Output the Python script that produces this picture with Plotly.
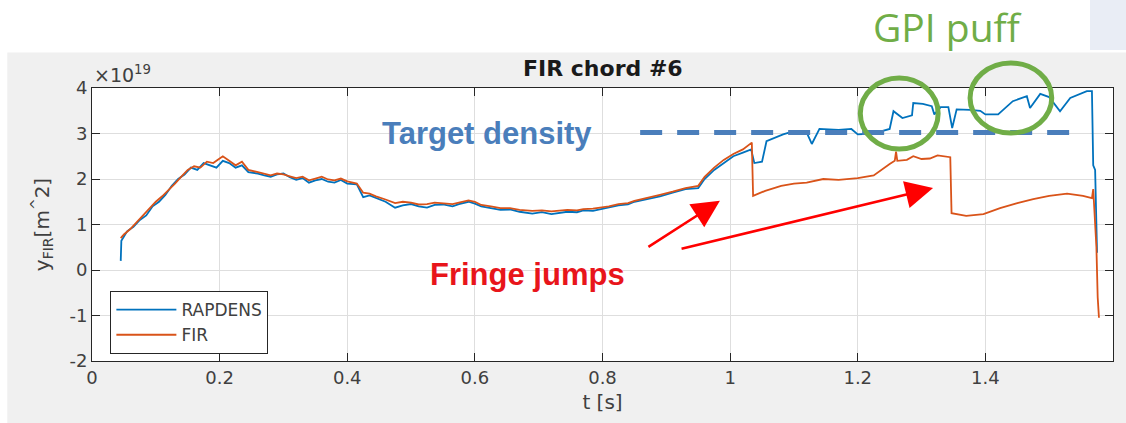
import plotly.graph_objects as go

# ---------------- data (values in units of 1e19 m^-2) ----------------
t_rap = [0.045, 0.046, 0.055, 0.065, 0.075, 0.085, 0.095, 0.105, 0.115, 0.125, 0.135, 0.145,
         0.155, 0.165, 0.175, 0.185, 0.195, 0.205, 0.215, 0.225, 0.235, 0.245, 0.26, 0.27,
         0.28, 0.29, 0.30, 0.31, 0.32, 0.33, 0.34, 0.35, 0.36, 0.37, 0.38, 0.39, 0.40, 0.415,
         0.425, 0.435, 0.445, 0.46, 0.475, 0.487, 0.50, 0.512, 0.525, 0.537,
         0.55, 0.565, 0.575, 0.59, 0.60, 0.61, 0.625, 0.64, 0.655, 0.67, 0.69, 0.705, 0.72,
         0.735, 0.745, 0.76, 0.77, 0.785, 0.80, 0.81, 0.825, 0.84, 0.85,
         0.87, 0.89, 0.91, 0.93, 0.95, 0.96, 0.975, 0.99, 1.005, 1.02, 1.033, 1.038, 1.05,
         1.057, 1.07, 1.083, 1.10, 1.12, 1.128, 1.14, 1.17, 1.19, 1.2, 1.224, 1.25, 1.256,
         1.27, 1.285, 1.287, 1.302, 1.316, 1.32, 1.33, 1.342, 1.348, 1.355, 1.376, 1.392,
         1.40, 1.42, 1.443, 1.465, 1.47, 1.486, 1.50, 1.517, 1.533, 1.548, 1.559, 1.567,
         1.569, 1.572, 1.575]
rapdens = [0.20, 0.64, 0.85, 0.95, 1.10, 1.20, 1.40, 1.50, 1.65, 1.85, 2.00, 2.10,
           2.25, 2.20, 2.35, 2.30, 2.25, 2.40, 2.35, 2.25, 2.30, 2.15, 2.12, 2.08,
           2.05, 2.10, 2.12, 2.04, 1.98, 2.02, 1.92, 1.97, 2.00, 1.94, 1.92, 1.98, 1.90, 1.88,
           1.60, 1.64, 1.58, 1.50, 1.37, 1.42, 1.45, 1.40, 1.37, 1.43,
           1.44, 1.40, 1.45, 1.50, 1.46, 1.40, 1.36, 1.32, 1.33, 1.28, 1.24, 1.27, 1.23,
           1.26, 1.28, 1.27, 1.31, 1.30, 1.35, 1.38, 1.42, 1.44, 1.50,
           1.56, 1.62, 1.70, 1.78, 1.80, 2.00, 2.20, 2.35, 2.50, 2.58, 2.65, 2.35, 2.38,
           2.83, 2.90, 2.98, 3.05, 3.02, 2.77, 3.10, 3.08, 3.10, 2.98, 3.00, 3.10, 3.49,
           3.34, 3.40, 3.67, 3.65, 3.60, 3.42, 3.58, 3.58, 3.12, 3.53, 3.52, 3.50,
           3.42, 3.42, 3.71, 3.82, 3.56, 3.87, 3.80, 3.49, 3.78, 3.87, 3.93, 3.93,
           2.30, 2.20, 0.38]

t_fir = [0.045, 0.05, 0.06, 0.07, 0.08, 0.09, 0.10, 0.11, 0.12, 0.13, 0.14, 0.15, 0.16,
         0.17, 0.18, 0.19, 0.20, 0.205, 0.215, 0.225, 0.235, 0.245, 0.26, 0.27, 0.28, 0.29,
         0.30, 0.31, 0.32, 0.33, 0.34, 0.35, 0.36, 0.37, 0.38, 0.39, 0.40, 0.415, 0.425,
         0.435, 0.445, 0.46, 0.475, 0.487, 0.50, 0.512, 0.525, 0.537, 0.55, 0.565, 0.575,
         0.59, 0.60, 0.61, 0.625, 0.64, 0.655, 0.67, 0.69, 0.705, 0.72, 0.735, 0.745, 0.76,
         0.77, 0.785, 0.80, 0.81, 0.825, 0.84, 0.85, 0.87, 0.89,
         0.91, 0.93, 0.95, 0.96, 0.975, 0.99, 1.005, 1.02, 1.034, 1.036, 1.055, 1.08, 1.10,
         1.12, 1.146, 1.17, 1.20, 1.225, 1.25, 1.258, 1.26, 1.262, 1.277, 1.287, 1.3, 1.313,
         1.325, 1.34, 1.345, 1.347, 1.37, 1.397, 1.423, 1.45, 1.475, 1.50, 1.528, 1.553,
         1.567, 1.569, 1.571, 1.574, 1.576, 1.578]
fir = [0.70, 0.78, 0.90, 1.05, 1.20, 1.35, 1.50, 1.62, 1.75, 1.90, 2.05, 2.20, 2.28,
       2.25, 2.38, 2.35, 2.45, 2.50, 2.40, 2.30, 2.38, 2.20, 2.15, 2.12, 2.08, 2.12,
       2.10, 2.06, 2.02, 2.05, 1.97, 2.01, 2.05, 1.99, 1.97, 2.01, 1.95, 1.90, 1.70,
       1.68, 1.62, 1.55, 1.47, 1.50, 1.48, 1.44, 1.45, 1.48, 1.47, 1.45, 1.48,
       1.53, 1.50, 1.43, 1.40, 1.36, 1.36, 1.32, 1.30, 1.31, 1.29, 1.30, 1.32, 1.31,
       1.34, 1.35, 1.38, 1.40, 1.45, 1.47, 1.52, 1.58, 1.65,
       1.72, 1.80, 1.85, 2.05, 2.25, 2.42, 2.55, 2.65, 2.80, 1.63, 1.74, 1.85, 1.90,
       1.92, 2.00, 1.98, 2.02, 2.08, 2.33, 2.40, 2.60, 2.40, 2.42, 2.50, 2.44, 2.45,
       2.52, 2.50, 2.48, 1.25, 1.19, 1.23, 1.36, 1.47, 1.56, 1.63, 1.68, 1.63,
       1.58, 1.78, 1.20, 0.50, -0.60, -1.05]

target_t = [0.859, 1.54]
target_density = [3.02, 3.02]

x_ticks = [0, 0.2, 0.4, 0.6, 0.8, 1.0, 1.2, 1.4, 1.6]
x_tick_text = ["0", "0.2", "0.4", "0.6", "0.8", "1", "1.2", "1.4", "1.6"]
y_ticks = [-2, -1, 0, 1, 2, 3, 4]
y_tick_text = ["-2", "-1", "0", "1", "2", "3", "4"]

X_RANGE = [0, 1.6]
Y_RANGE = [-2, 4]

BLUE = "#0072BD"
ORANGE = "#D95319"
AX = "#262626"
TXT = "#404040"
FONT = "DejaVu Sans"

def dx(v):  # data x -> paper
    return (v - X_RANGE[0]) / (X_RANGE[1] - X_RANGE[0])

def dy(v):  # data y -> paper
    return (v - Y_RANGE[0]) / (Y_RANGE[1] - Y_RANGE[0])

fig = go.Figure()
fig.add_trace(go.Scatter(x=t_rap, y=rapdens, mode="lines", name="RAPDENS",
                         line=dict(color=BLUE, width=1.8)))
fig.add_trace(go.Scatter(x=t_fir, y=fir, mode="lines", name="FIR",
                         line=dict(color=ORANGE, width=1.8)))
fig.add_trace(go.Scatter(x=target_t, y=target_density, mode="lines", showlegend=False,
                         line=dict(color="#4A7EBB", width=5, dash="22px,15px"),
                         hoverinfo="skip"))

axis_common = dict(showline=True, linecolor=AX, linewidth=1, mirror="allticks",
                   ticks="inside", ticklen=8, tickcolor=AX, showgrid=True,
                   gridcolor="#DEDEDE", gridwidth=1, zeroline=False,
                   tickfont=dict(family=FONT, size=18, color=TXT))

fig.update_xaxes(range=X_RANGE, tickvals=x_ticks, ticktext=x_tick_text,
                 title=dict(text="t [s]", font=dict(family=FONT, size=20, color=TXT),
                            standoff=8),
                 **axis_common)
fig.update_yaxes(range=Y_RANGE, tickvals=y_ticks, ticktext=y_tick_text,
                 title=dict(text="y<sub>FIR</sub>[m<sup>^</sup>2]",
                            font=dict(family=FONT, size=20, color=TXT), standoff=14),
                 **axis_common)

shapes = [
    # grey MATLAB figure background
    dict(type="rect", xref="paper", yref="paper", x0=-0.083, x1=1.05, y0=-0.3, y1=1.13,
         fillcolor="#F0F0F0", line=dict(width=0), layer="below"),
    # white axes area
    dict(type="rect", xref="paper", yref="paper", x0=0, x1=1, y0=0, y1=1,
         fillcolor="white", line=dict(width=0), layer="below"),
    # light box top right
    dict(type="rect", xref="paper", yref="paper", x0=(1090 - 92) / 1021, x1=1.05,
         y0=(361 - 50) / 273, y1=1.4, fillcolor="#E9EDF5", line=dict(width=0), layer="below"),
    # GPI puff circles
    dict(type="circle", xref="paper", yref="paper", x0=dx(1.204), x1=dx(1.326),
         y0=dy(2.66), y1=dy(4.22), line=dict(color="#70AD47", width=5)),
    dict(type="circle", xref="paper", yref="paper", x0=dx(1.376), x1=dx(1.504),
         y0=dy(3.01), y1=dy(4.55), line=dict(color="#70AD47", width=5)),
]

annotations = [
    dict(text="<b>FIR chord #6</b>", xref="paper", yref="paper", x=0.5, y=(361 - 68) / 273,
         showarrow=False, font=dict(family=FONT, size=22, color="#1a1a1a"),
         xanchor="center", yanchor="middle"),
    dict(text="×10<sup>19</sup>", xref="paper", yref="paper", x=0.0, y=(361 - 74) / 273,
         showarrow=False, font=dict(family=FONT, size=19, color=TXT),
         xanchor="left", yanchor="middle"),
    dict(text="<b>Target density</b>", xref="x", yref="y", x=(487 - 92) / 638.1, y=3.0,
         showarrow=False, font=dict(family="Liberation Sans", size=31, color="#4A7EBB"),
         xanchor="center", yanchor="middle"),
    dict(text="<b>Fringe jumps</b>", xref="x", yref="y", x=(527 - 92) / 638.1, y=-0.1,
         showarrow=False, font=dict(family="Liberation Sans", size=31, color="#E8151B"),
         xanchor="center", yanchor="middle"),
    dict(text="", xref="x", yref="y", x=0.984, y=1.52, ax=-73, ay=47, showarrow=True,
         arrowhead=2, arrowsize=2.2, arrowwidth=2.5, arrowcolor="#FF0000"),
    dict(text="", xref="x", yref="y", x=1.318, y=1.80, ax=-253, ay=61, showarrow=True,
         arrowhead=2, arrowsize=2.2, arrowwidth=2.5, arrowcolor="#FF0000"),
    dict(text="GPI puff", xref="paper", yref="paper", x=(948 - 92) / 1021, y=(361 - 27) / 273,
         showarrow=False, font=dict(family="Open Sans", size=39, color="#70AD47"),
         xanchor="center", yanchor="middle"),
]

fig.update_layout(
    width=1126, height=423,
    margin=dict(l=92, r=13, t=88, b=62),
    paper_bgcolor="white", plot_bgcolor="white",
    shapes=shapes, annotations=annotations,
    showlegend=True,
    legend=dict(x=0.018, y=0.256, xanchor="left", yanchor="top",
                bgcolor="white", bordercolor=AX, borderwidth=1,
                font=dict(family=FONT, size=17, color=TXT),
                tracegroupgap=0, itemwidth=60),
)

fig.write_html("out.html")
